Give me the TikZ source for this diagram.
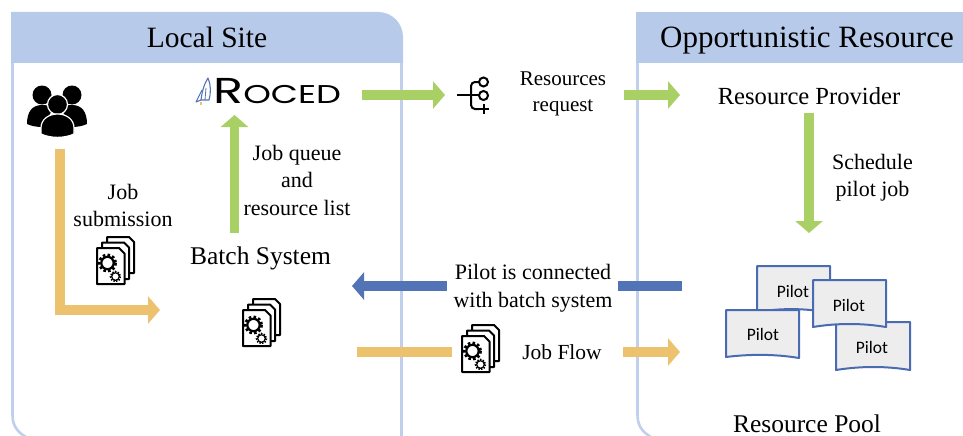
\documentclass[tikz,border=0pt]{standalone}
\usepackage{fontspec}
\setmainfont{Liberation Serif}
\newfontfamily\pilotfont{Carlito}
\newfontfamily\logofont{Poppins}
\usetikzlibrary{arrows.meta}
\definecolor{hdr}{HTML}{B8CAEA}
\definecolor{edgeblue}{HTML}{BFCFEC}
\definecolor{flowgreen}{HTML}{A9D064}
\definecolor{floworange}{HTML}{EDC26F}
\definecolor{flowblue}{HTML}{5373B7}
\definecolor{pilotedge}{HTML}{4A6BB2}
\definecolor{pilotfill}{HTML}{EDEDED}
\tikzset{
  x=1pt,y=-1pt,
  label/.style={font=\fontsize{22}{27.5}\selectfont,inner sep=0pt,align=center,anchor=center},
  subject/.style={font=\fontsize{25.5}{28}\selectfont,inner sep=0pt,anchor=base},
  pilotlabel/.style={font=\pilotfont\fontsize{17.5}{19}\selectfont,inner sep=0pt},
  gapnode/.style={fill=white,inner sep=0pt,minimum height=30pt},
  greenflow/.style={line width=9.5pt,draw=flowgreen,-{Triangle[length=12pt,width=27pt,fill=flowgreen]}},
  orangeflow/.style={line width=10pt,draw=floworange,-{Triangle[length=12pt,width=27pt,fill=floworange]}},
  blueflow/.style={line width=10pt,draw=flowblue,-{Triangle[length=12pt,width=27pt,fill=flowblue]}},
  pilotsheet/.style={draw=pilotedge,fill=pilotfill,line width=2pt,line join=round},
  docsheet/.style={draw=black,fill=white,line width=2pt,line join=round},
  pics/jobdoc/.style={code={
    \draw[docsheet] (10,-11) -- (32,-11) -- (37,-6) -- (37,25) -- (10,25) -- cycle;
    \draw[docsheet] (5,-5.5) -- (27,-5.5) -- (32,-0.5) -- (32,31) -- (5,31) -- cycle;
    \draw[docsheet] (0,0) -- (22,0) -- (27.5,5.5) -- (27.5,36) -- (0,36) -- cycle;
    \draw[black,line width=2.6pt,dash pattern=on 2.6pt off 2.2pt] (10.5,15) circle (8.2);
    \draw[black,line width=2.2pt] (10.5,15) circle (6.2);
    \draw[black,line width=1.6pt,dash pattern=on 1.5pt off 1.3pt] (18.5,28.5) circle (5);
    \draw[black,line width=1.2pt] (18.5,28.5) circle (3.8);
  }}
}
\begin{document}
\begin{tikzpicture}
\useasboundingbox (0,0) rectangle (963,436);
% panels
\path[fill=hdr] (11,63) -- (11,12) -- (378,12) .. controls (392,12) and (403,23) .. (403,37) -- (403,63) -- cycle;
\draw[edgeblue,line width=2.6pt] (12.5,63) -- (12.5,415) .. controls (12.5,425) and (17,432) .. (26,437);
\draw[edgeblue,line width=2.6pt] (401.5,63) -- (401.5,436);
\path[fill=hdr] (636,63) -- (636,12) -- (963,12) -- (963,63) -- cycle;
\draw[edgeblue,line width=2.6pt] (637.5,63) -- (637.5,415) .. controls (637.5,425) and (642,432) .. (651,437);
\node[inner sep=0pt,anchor=base,font=\fontsize{29.5}{32}\selectfont] (localtitle) at (207,48) {Local Site};
\node[inner sep=0pt,anchor=base,font=\fontsize{31}{32}\selectfont] (opptitle) at (807,48) {Opportunistic Resource};
% anchors
\coordinate (userfoot) at (60,149);
\coordinate (usercorner) at (60,310);
\coordinate (batchin) at (160,310);
\coordinate (batchup) at (234.5,233);
\coordinate (rocedin) at (234.5,115);
\coordinate (rocedout) at (362,95);
\coordinate (splitin) at (445,95);
\coordinate (reqout) at (624,95);
\coordinate (provin) at (680,95);
\coordinate (provout) at (809,113);
\coordinate (poolin) at (809,233);
\coordinate (poolout) at (682,286);
\coordinate (batchback) at (352,286);
\coordinate (flowstart) at (357,352);
\coordinate (flowend) at (680,352);
% users icon
\fill (42,95) circle (9.5);
\fill (72,95) circle (9.5);
\fill (27,124) .. controls (27,112) and (32,105) .. (42,105) .. controls (47,105) and (50,106) .. (53,109) -- (42,127) .. controls (37,127) and (31,126) .. (27,124) -- cycle;
\fill (87,124) .. controls (87,112) and (82,105) .. (72,105) .. controls (67,105) and (64,106) .. (61,109) -- (72,127) .. controls (77,127) and (83,126) .. (87,124) -- cycle;
\fill[draw=white,line width=1.2pt] (57.5,104.5) circle (10);
\fill[draw=white,line width=1.2pt] (41,134) -- (41,128) .. controls (41,119) and (49,114) .. (57.5,114) .. controls (66,114) and (74,119) .. (74,128) -- (74,134) .. controls (64,138.5) and (51,138.5) .. (41,134) -- cycle;
% logo
\draw[flowblue,line width=1.1pt,line join=round] (201,100) .. controls (202,92) and (204,84) .. (208,78) .. controls (211,85) and (211,93) .. (209,100) -- cycle;
\draw[flowblue,line width=1.1pt,line join=round] (202,90) -- (196,102) -- (201,100);
\draw[flowblue,line width=.8pt] (205,100) -- (206,88);
\fill[floworange] (200,102) rectangle (201.5,105);
\node[inner sep=0pt,anchor=base west,xscale=1.37] (roced) at (213,103) {\logofont\fontsize{36}{36}\selectfont R\fontsize{25.7}{26}\selectfont OCED};
% arrows
\draw[orangeflow] (userfoot) -- (usercorner) -- (batchin);
\draw[greenflow] (batchup) -- (rocedin);
\draw[greenflow] (rocedout) -- (splitin);
\draw[greenflow] (reqout) -- (provin);
\draw[greenflow] (provout) -- (poolin);
\draw[blueflow] (poolout) -- (batchback);
\draw[orangeflow] (flowstart) -- (flowend);
% labels
\node[gapnode,minimum width=171pt] (conn) at (532.5,286) {};
\node[label] (connlabel) at (533,288) {Pilot is connected\\with batch system};
\node[gapnode,minimum width=171pt] (flowgap) at (537,352) {};
\node[label,font=\fontsize{21.5}{26}\selectfont] (jobflow) at (562,352) {Job Flow};
\node[label] (jobsub) at (123,205.5) {Job\\submission};
\node[label] (queue) at (297,180) {Job queue\\and\\resource list};
\node[label,font=\fontsize{21}{26}\selectfont] (resreq) at (563,93.5) {Resources\\request};
\node[label] (sched) at (872.5,177.5) {Schedule\\pilot job};
\node[subject] (batch) at (260.5,264) {Batch System};
\node[subject,font=\fontsize{24.6}{28}\selectfont] (provider) at (809,104) {Resource Provider};
\node[subject] (pool) at (807,432) {Resource Pool};
% job documents
\pic at (97,248) {jobdoc};
\pic at (243,310) {jobdoc};
\pic at (462,336) {jobdoc};
% split icon
\draw[line width=2pt] (457,95) -- (479,95);
\draw[line width=2pt,rounded corners=4pt] (479,82) -- (471,82) -- (471,109) -- (479,109);
\draw[line width=2pt,fill=white] (483.5,82) circle (4.5);
\draw[line width=2pt,fill=white] (483.5,95.5) circle (4.5);
\draw[line width=2.8pt] (479,109) -- (489,109) (484,104) -- (484,114);
% pilots
\path[pilotsheet] (757,266) -- (830,266) -- (830,313) .. controls (806,308) and (781,308) .. (757,312) -- cycle;
\node[pilotlabel] (p1) at (793,291) {Pilot};
\path[pilotsheet] (836,322) -- (910,322) -- (910,370) .. controls (886,366) and (861,366) .. (836,370) -- cycle;
\node[pilotlabel] (p4) at (872,347) {Pilot};
\path[pilotsheet] (813,280) -- (886,280) -- (886,327) .. controls (862,323) and (837,323) .. (813,327) -- cycle;
\node[pilotlabel] (p2) at (849,305) {Pilot};
\path[pilotsheet] (726,310) -- (799,310) -- (799,358) .. controls (775,354) and (750,354) .. (726,357) -- cycle;
\node[pilotlabel] (p3) at (763,334) {Pilot};
\end{tikzpicture}
\end{document}
